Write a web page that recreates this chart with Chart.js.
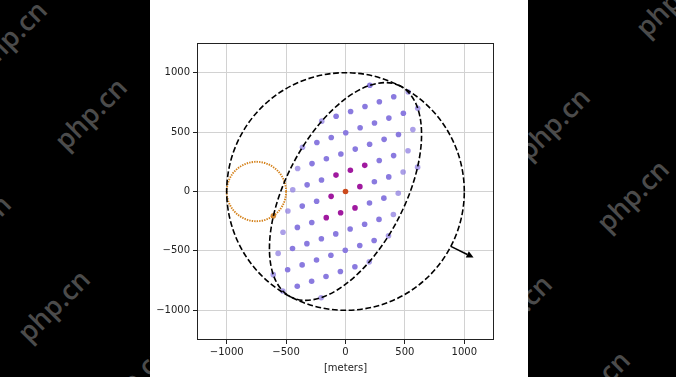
<!DOCTYPE html>
<html><head><meta charset="utf-8">
<script src="https://cdn.jsdelivr.net/npm/chart.js@4/dist/chart.umd.min.js"></script>
<style>
html,body{margin:0;padding:0;background:#000;width:676px;height:377px;overflow:hidden;}
#wm{position:absolute;left:0;top:0;width:676px;height:377px;overflow:hidden;}
.wm{position:absolute;font-family:'Open Sans',sans-serif;font-weight:600;font-size:27px;color:#4b4b4b;transform:translate(-50%,-50%) rotate(-45deg);white-space:nowrap;line-height:1;}
#panel{position:absolute;left:150px;top:0;width:378px;height:377px;background:#fff;}
canvas{display:block}
</style></head>
<body>
<div id="wm">
<span class="wm" style="left:10px;top:36px">php.cn</span>
<span class="wm" style="left:90px;top:113px">php.cn</span>
<span class="wm" style="left:-26px;top:230px">php.cn</span>
<span class="wm" style="left:53px;top:305px">php.cn</span>
<span class="wm" style="left:132px;top:380px">php.cn</span>
<span class="wm" style="left:671px;top:0px">php.cn</span>
<span class="wm" style="left:553px;top:123px">php.cn</span>
<span class="wm" style="left:632px;top:195px">php.cn</span>
<span class="wm" style="left:515px;top:310px">php.cn</span>
<span class="wm" style="left:593px;top:386px">php.cn</span>
</div>
<div id="panel"><canvas id="c" width="378" height="377"></canvas></div>
<script>
// ---- data (meters) ----
const tickValues = [-1000, -500, 0, 500, 1000];

const purpleX = [205,
  -79, 43, 164, 285, 406,
  -241, -120, 2, 123, 244, 365, 487,
  -282, -161, -39, 82, 203, 325, 446,
  -323, -202, 284, 405,
  -364, -243, 243, 364,
  -405, -284, 202, 323,
  -446, -325, -203, -82, 39, 161, 282,
  -487, -365, -244, -123, -2, 120, 241,
  -406, -285, -164, -43, 79];
const purpleY = [894,
  633, 674, 715, 756, 797,
  413, 454, 495, 536, 577, 618, 659,
  235, 276, 316, 357, 398, 439, 480,
  56, 97, 261, 302,
  -123, -82, 82, 123,
  -302, -261, -97, -56,
  -480, -439, -398, -357, -316, -276, -235,
  -659, -618, -577, -536, -495, -454, -413,
  -797, -756, -715, -674, -633];

const lightX = [-200, 528, -362, 608, -403, 567, -444, 526, -485, 485, 607, -526, 444, -567, 403, -608, 362, -528, 200, -205];
const lightY = [592, 838, 372, 700, 194, 521, 15, 343, -164, 164, 205, -343, -15, -521, -194, -700, -372, -838, -592, -894];

const ringX = [-80, 41, 162, -121, 121, -162, -41, 80];
const ringY = [138, 179, 220, -41, 41, -220, -179, -138];

const centerX = [0];
const centerY = [0];

const edgeDotX = [-607];
const edgeDotY = [-205];

// outlines: [centerX, centerY, semiMajor, semiMinor, angleDeg]
const outerCircle = [0, 0, 1000, 1000, 0];
const innerEllipse = [0, 0, 1000, 500, 62.5];
const orangeCircle = [-750, 0, 250, 250, 0];
// arrow: [x0, y0, x1, y1]
const arrowLine = [887, -462, 1078, -556];

const pts = (xs, ys) => xs.map((x, i) => ({x: x, y: ys[i]}));
const fmt = v => (v < 0 ? '\u2212' + Math.abs(v) : String(v));

const shapes = {
  id: 'shapes',
  afterDatasetsDraw(chart) {
    const ctx = chart.ctx, xs = chart.scales.x, ys = chart.scales.y;
    const sx = (xs.getPixelForValue(1000) - xs.getPixelForValue(0)) / 1000;
    const sy = (ys.getPixelForValue(0) - ys.getPixelForValue(1000)) / 1000;
    function ell(e, color, lw, dash) {
      ctx.save();
      ctx.beginPath();
      ctx.save();
      ctx.translate(xs.getPixelForValue(e[0]), ys.getPixelForValue(e[1]));
      ctx.scale(sx, -sy);
      ctx.ellipse(0, 0, e[2], e[3], e[4] * Math.PI / 180, 0, Math.PI * 2);
      ctx.restore();
      ctx.strokeStyle = color; ctx.lineWidth = lw; ctx.setLineDash(dash);
      ctx.stroke();
      ctx.restore();
    }
    ell(orangeCircle, '#d4821c', 1.9, [1.4, 1.1]);
    ell(outerCircle, '#000', 1.6, [5.8, 2.6]);
    ell(innerEllipse, '#000', 1.6, [5.8, 2.6]);
    // arrow
    const x0 = xs.getPixelForValue(arrowLine[0]), y0 = ys.getPixelForValue(arrowLine[1]);
    const x1 = xs.getPixelForValue(arrowLine[2]), y1 = ys.getPixelForValue(arrowLine[3]);
    const ang = Math.atan2(y1 - y0, x1 - x0), hl = 7, hw = 3.5;
    const bx = x1 - hl * Math.cos(ang), by = y1 - hl * Math.sin(ang);
    ctx.save();
    ctx.strokeStyle = '#000'; ctx.fillStyle = '#000'; ctx.lineWidth = 1.6;
    ctx.beginPath(); ctx.moveTo(x0, y0); ctx.lineTo(bx, by); ctx.stroke();
    ctx.beginPath(); ctx.moveTo(x1, y1);
    ctx.lineTo(bx + hw * Math.sin(ang), by - hw * Math.cos(ang));
    ctx.lineTo(bx - hw * Math.sin(ang), by + hw * Math.cos(ang));
    ctx.closePath(); ctx.fill();
    // frame
    const a = chart.chartArea;
    ctx.lineWidth = 1; ctx.strokeStyle = '#222';
    ctx.strokeRect(Math.round(a.left) + 0.5, Math.round(a.top) + 0.5, Math.round(a.right - a.left) - 1, Math.round(a.bottom - a.top) - 1);
    ctx.restore();
  }
};

const tickFont = {family: 'DejaVu Sans', size: 10};
const gridCfg = {color: '#d2d2d2', lineWidth: 1, tickLength: 4, tickColor: '#222', drawTicks: true};
const setTicks = s => { s.ticks = tickValues.map(v => ({value: v})); };

new Chart(document.getElementById('c').getContext('2d'), {
  type: 'scatter',
  data: {datasets: [
    {data: pts(centerX, centerY), backgroundColor: '#cc4a1c', borderWidth: 0, pointRadius: 2.8},
    {data: pts(edgeDotX, edgeDotY), backgroundColor: '#d08a3e', borderWidth: 0, pointRadius: 2.8},
    {data: pts(ringX, ringY), backgroundColor: '#a0199f', borderWidth: 0, pointRadius: 2.8},
    {data: pts(purpleX, purpleY), backgroundColor: '#8a7adf', borderWidth: 0, pointRadius: 2.8},
    {data: pts(lightX, lightY), backgroundColor: 'rgba(138,122,223,0.72)', borderWidth: 0, pointRadius: 2.8}
  ]},
  options: {
    responsive: false, animation: false, devicePixelRatio: 1,
    plugins: {legend: {display: false}, tooltip: {enabled: false}},
    layout: {padding: {left: 0, right: 34, top: 43, bottom: 0}},
    scales: {
      x: {type: 'linear', min: -1250, max: 1250, afterBuildTicks: setTicks, afterFit: s => { s.height = 37; },
          grid: gridCfg, border: {display: false},
          ticks: {font: tickFont, color: '#222', padding: 2, maxRotation: 0, autoSkip: false, callback: fmt},
          title: {display: true, text: '[meters]', font: tickFont, color: '#222', padding: {top: 0, bottom: 3}}},
      y: {type: 'linear', min: -1250, max: 1250, afterBuildTicks: setTicks, afterFit: s => { s.width = 47; },
          grid: gridCfg, border: {display: false},
          ticks: {font: tickFont, color: '#222', padding: 3, autoSkip: false, callback: fmt}}
    }
  },
  plugins: [shapes]
});
</script>
</body></html>
